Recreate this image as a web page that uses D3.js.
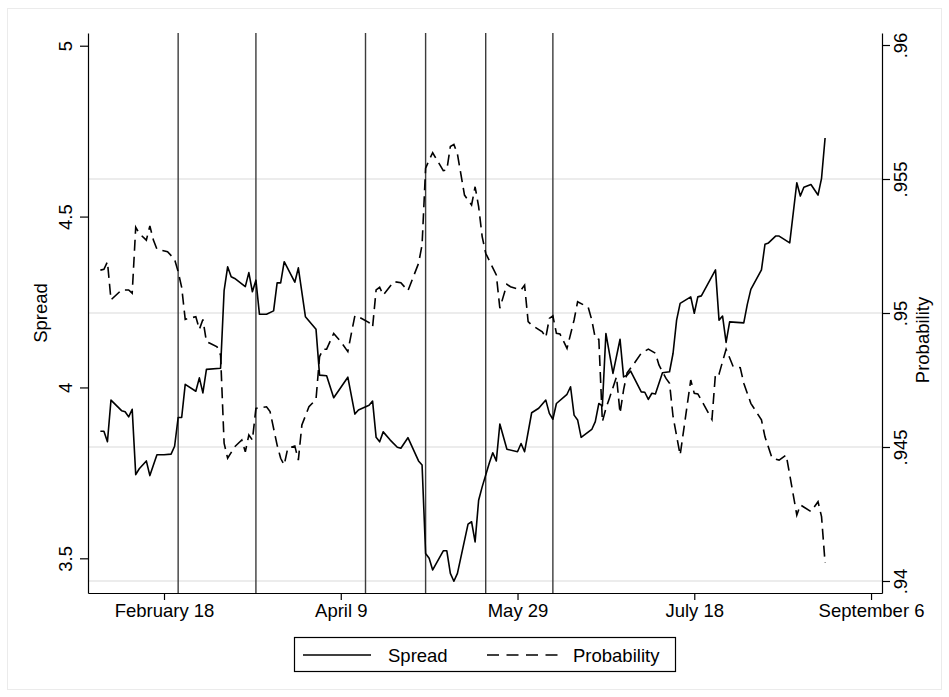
<!DOCTYPE html>
<html><head><meta charset="utf-8">
<script src="https://cdn.jsdelivr.net/npm/d3@7"></script>
<style>html,body{margin:0;padding:0;background:#fff}svg{display:block}</style>
</head><body><svg id="chart" width="949" height="697"></svg>
<script>
// ---- data (day offsets relative to February 18) ----
const baseDate = "2009-02-18";
const xTickLabels = ["2009-02-18","2009-04-09","2009-05-29","2009-07-18","2009-09-06"];
const eventDays = [4, 26, 57, 74, 91, 110];
const spreadTicks = [3.5, 4, 4.5, 5];
const probTicks = [0.94, 0.945, 0.95, 0.955, 0.96];

const spreadDays = [-18,-17,-16,-15,-12,-11,-10,-9,-8,-7,-5,-4,-2,0,2,3,4,5,6,9,10,11,12,16,17,18,19,20,23,24,25,26,27,29,31,32,33,34,37,38,40,43,44,46,48,52,54,55,58,59,60,61,62,64,66,67,69,72,73,74,75,76,79,80,81,82,83,86,87,88,89,90,92,93,94,95,97,100,101,102,104,106,108,109,110,111,114,115,116,117,118,121,122,123,124,125,127,129,130,131,132,135,136,137,138,139,141,143,144,145,146,149,150,151,152,156,157,158,159,160,164,165,166,169,170,171,173,174,177,179,180,181,183,185,186,187];
const spreadValues = [3.872,3.872,3.841,3.963,3.932,3.929,3.914,3.936,3.745,3.762,3.785,3.742,3.803,3.803,3.805,3.828,3.912,3.912,4.009,3.989,4.028,3.984,4.053,4.056,4.283,4.353,4.324,4.319,4.295,4.336,4.280,4.314,4.214,4.214,4.224,4.306,4.306,4.368,4.308,4.350,4.207,4.170,4.036,4.034,3.970,4.030,3.922,3.934,3.948,3.960,3.854,3.841,3.870,3.846,3.825,3.822,3.853,3.785,3.773,3.514,3.500,3.466,3.522,3.522,3.456,3.433,3.456,3.600,3.607,3.548,3.670,3.709,3.778,3.809,3.785,3.893,3.819,3.812,3.836,3.812,3.926,3.939,3.963,3.924,3.907,3.953,3.980,4.002,3.919,3.905,3.854,3.877,3.900,3.953,3.946,4.158,4.041,4.141,4.031,4.036,4.048,3.987,3.986,3.965,3.983,3.981,4.043,4.046,4.100,4.197,4.246,4.265,4.217,4.265,4.268,4.344,4.197,4.209,4.132,4.192,4.189,4.243,4.287,4.344,4.419,4.423,4.443,4.443,4.423,4.599,4.560,4.586,4.594,4.563,4.612,4.730];

const probDays = [-18,-17,-16,-15,-12,-10,-9,-8,-7,-5,-4,-3,-2,1,3,4,5,6,7,9,10,11,12,13,15,16,17,18,20,22,23,24,25,26,29,30,32,33,34,35,37,38,39,41,43,44,45,46,48,50,52,53,54,55,58,59,60,61,62,65,67,69,72,73,74,75,76,79,80,81,82,83,85,87,88,89,90,91,94,95,97,98,101,102,103,104,107,108,109,110,111,112,114,116,117,120,121,122,123,124,125,126,128,129,130,131,133,135,137,139,140,142,143,144,146,147,149,150,151,152,155,156,157,159,161,163,164,166,169,170,172,174,176,177,179,180,183,185,186,187];
const probValues = [0.95160,0.95163,0.95191,0.95049,0.95086,0.95086,0.95074,0.95320,0.95297,0.95272,0.95325,0.95272,0.95238,0.95229,0.95200,0.95154,0.95096,0.94976,0.94980,0.94986,0.94939,0.94976,0.94893,0.94887,0.94874,0.94843,0.94514,0.94458,0.94501,0.94526,0.94482,0.94545,0.94526,0.94644,0.94650,0.94632,0.94507,0.94458,0.94433,0.94495,0.94504,0.94451,0.94582,0.94650,0.94678,0.94837,0.94865,0.94865,0.94924,0.94893,0.94856,0.94924,0.94990,0.94986,0.94964,0.94947,0.95086,0.95096,0.95067,0.95117,0.95113,0.95083,0.95185,0.95254,0.95540,0.95571,0.95598,0.95531,0.95534,0.95621,0.95629,0.95593,0.95440,0.95403,0.95471,0.95397,0.95285,0.95223,0.95142,0.95018,0.95107,0.95098,0.95086,0.95104,0.94968,0.94955,0.94930,0.94909,0.94980,0.94989,0.94924,0.94922,0.94868,0.94974,0.95042,0.95021,0.94974,0.94906,0.94902,0.94594,0.94644,0.94682,0.94762,0.94626,0.94713,0.94777,0.94812,0.94850,0.94865,0.94850,0.94806,0.94756,0.94738,0.94613,0.94470,0.94563,0.94750,0.94700,0.94698,0.94675,0.94603,0.94775,0.94772,0.94865,0.94800,0.94796,0.94738,0.94663,0.94601,0.94538,0.94458,0.94451,0.94470,0.94396,0.94246,0.94284,0.94259,0.94296,0.94240,0.94067];

const seriesNames = ["Spread", "Probability"];

// ---- layout ----
const W = 949, H = 697;
const P = {left: 88, right: 882, top: 33, bottom: 593};
const FONT = "'Liberation Sans', Arial, Helvetica, sans-serif";
const FS = 18.5;

const parse = d3.utcParse("%Y-%m-%d");
const base = parse(baseDate);
const toDate = d => new Date(base.getTime() + d * 864e5);

const x = d3.scaleUtc()
  .domain([toDate(-21.5), toDate(203.1)])
  .range([P.left, P.right]);
const yL = d3.scaleLinear().domain([3.3985, 5.0372]).range([P.bottom, P.top]);
const yR = d3.scaleLinear().domain([0.939552, 0.960448]).range([P.bottom, P.top]);

const svg = d3.select("#chart");
svg.append("rect").attr("width", W).attr("height", H).attr("fill", "#fff");
svg.append("rect").attr("x", 7.5).attr("y", 8.5).attr("width", 934).attr("height", 681)
  .attr("fill", "none").attr("stroke", "#ebebeb").attr("stroke-width", 1);

// gridlines (right axis)
svg.append("g").selectAll("line").data(probTicks.filter(v => v < 0.958)).join("line")
  .attr("x1", P.left).attr("x2", P.right)
  .attr("y1", d => yR(d)).attr("y2", d => yR(d))
  .attr("stroke", "#e6e6e6").attr("stroke-width", 1.6);

// event vertical lines
svg.append("g").selectAll("line").data(eventDays).join("line")
  .attr("x1", d => x(toDate(d))).attr("x2", d => x(toDate(d)))
  .attr("y1", P.top).attr("y2", P.bottom)
  .attr("stroke", "#3c3c3c").attr("stroke-width", 1.4);

// series
const spreadData = spreadDays.map((d, i) => [toDate(d), spreadValues[i]]);
const probData = probDays.map((d, i) => [toDate(d), probValues[i]]);

svg.append("path").datum(spreadData)
  .attr("fill", "none").attr("stroke", "#000").attr("stroke-width", 1.6)
  .attr("stroke-linejoin", "round")
  .attr("d", d3.line().x(d => x(d[0])).y(d => yL(d[1])));

svg.append("path").datum(probData)
  .attr("fill", "none").attr("stroke", "#000").attr("stroke-width", 1.6)
  .attr("stroke-dasharray", "11,6")
  .attr("d", d3.line().x(d => x(d[0])).y(d => yR(d[1])));

// axes
function styleAxis(g) {
  g.selectAll("path.domain").attr("stroke", "#000").attr("stroke-width", 1.2);
  g.selectAll(".tick line").attr("stroke", "#000").attr("stroke-width", 1.2);
  g.selectAll("text").attr("fill", "#000").style("font-family", FONT).style("font-size", FS + "px");
}

const gL = svg.append("g").attr("transform", `translate(${P.left},0)`)
  .call(d3.axisLeft(yL).tickValues(spreadTicks).tickSize(8).tickSizeOuter(0).tickFormat(d => String(d)));
styleAxis(gL);
gL.selectAll(".tick text").attr("x", null).attr("dy", null)
  .attr("text-anchor", "middle").attr("transform", "translate(-16,0) rotate(-90)");

const gR = svg.append("g").attr("transform", `translate(${P.right},0)`)
  .call(d3.axisRight(yR).tickValues(probTicks).tickSize(8).tickSizeOuter(0)
    .tickFormat(d => String(d).replace(/^0/, "")));
styleAxis(gR);
gR.selectAll(".tick text").attr("x", null).attr("dy", null)
  .attr("text-anchor", "middle").attr("transform", "translate(25,0) rotate(-90)");

const gB = svg.append("g").attr("transform", `translate(0,${P.bottom})`)
  .call(d3.axisBottom(x).tickValues(xTickLabels.map(parse)).tickSize(7).tickSizeOuter(0)
    .tickFormat(d3.utcFormat("%B %-d")));
styleAxis(gB);
gB.selectAll(".tick text").attr("y", 24).attr("dy", null);

// axis titles
svg.append("text").text(seriesNames[0])
  .attr("transform", `translate(47,${(P.top + P.bottom) / 2}) rotate(-90)`)
  .attr("text-anchor", "middle").style("font-family", FONT).style("font-size", FS + "px");
svg.append("text").text(seriesNames[1])
  .attr("transform", `translate(929,340) rotate(-90)`)
  .attr("text-anchor", "middle").style("font-family", FONT).style("font-size", FS + "px");

// legend
const lg = svg.append("g");
lg.append("rect").attr("x", 294.5).attr("y", 637.5).attr("width", 381).attr("height", 34)
  .attr("fill", "#fff").attr("stroke", "#000").attr("stroke-width", 1.2);
lg.append("line").attr("x1", 303).attr("x2", 371).attr("y1", 655).attr("y2", 655)
  .attr("stroke", "#000").attr("stroke-width", 1.6);
lg.append("text").text(seriesNames[0]).attr("x", 388).attr("y", 662)
  .style("font-family", FONT).style("font-size", FS + "px");
lg.append("line").attr("x1", 487).attr("x2", 558).attr("y1", 655).attr("y2", 655)
  .attr("stroke", "#000").attr("stroke-width", 1.6).attr("stroke-dasharray", "12,7.5");
lg.append("text").text(seriesNames[1]).attr("x", 573).attr("y", 662)
  .style("font-family", FONT).style("font-size", FS + "px");
</script></body></html>
